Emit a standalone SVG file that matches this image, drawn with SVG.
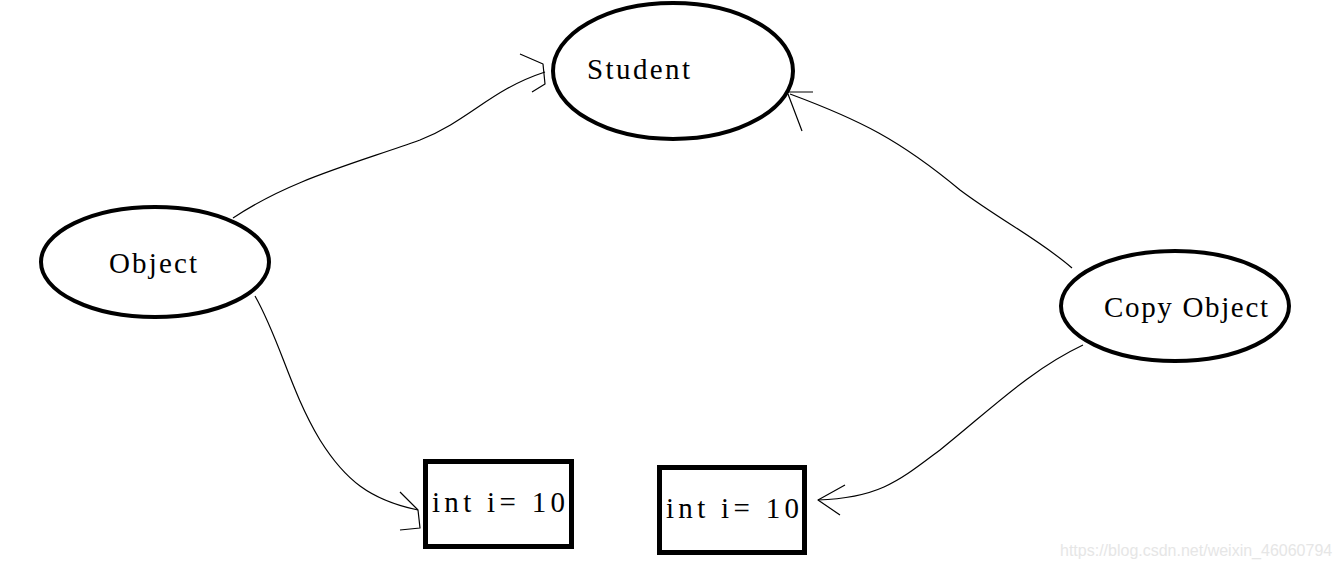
<svg xmlns="http://www.w3.org/2000/svg" width="1340" height="568" viewBox="0 0 1340 568">
<style>
.node{fill:#fff;stroke:#000;stroke-width:4}
.box{fill:#fff;stroke:#000;stroke-width:5}
.lbl{font-family:"Liberation Serif","Times New Roman",serif;font-size:29px;fill:#000}
.conn{fill:none;stroke:#000;stroke-width:1.2;stroke-linejoin:round}
.wm{font-family:"Liberation Sans",Arial,sans-serif;font-size:16px;fill:#e6e6e6}
</style>
<rect width="1340" height="568" fill="#fff"/>
<g id="connectors">
<path class="conn" d="M233,218 C290,180 350,165 420,140 C470,120 490,90 545,72"/>
<path class="conn" d="M520,54 L543,64 L545,84 L532,92"/>
<path class="conn" d="M1072,268 C1040,240 1000,220 960,190 C900,140 860,120 790,94"/>
<path class="conn" d="M788,92 L813,92 M788,94 L802,131"/>
<path class="conn" d="M255,296 C280,340 290,390 320,440 C345,480 370,500 418,510"/>
<path class="conn" d="M400,492 L418,510 L420,528 L400,530"/>
<path class="conn" d="M1083,345 C1030,370 990,410 940,450 C900,480 880,498 818,500"/>
<path class="conn" d="M845,485 L818,500 L840,515"/>
</g>
<g id="student">
<ellipse class="node" cx="673" cy="71" rx="120" ry="68"/>
<text class="lbl" x="587" y="79" textLength="103" lengthAdjust="spacing">Student</text>
</g>
<g id="object">
<ellipse class="node" cx="155" cy="262" rx="114" ry="55"/>
<text class="lbl" x="109" y="273" textLength="88" lengthAdjust="spacing">Object</text>
</g>
<g id="copy-object">
<ellipse class="node" cx="1175" cy="306" rx="114" ry="55"/>
<text class="lbl" x="1104" y="317" textLength="164" lengthAdjust="spacing">Copy Object</text>
</g>
<g id="box1">
<rect class="box" x="425.5" y="461.5" width="146" height="85"/>
<text class="lbl" x="432" y="512" textLength="133" lengthAdjust="spacing">int i= 10</text>
</g>
<g id="box2">
<rect class="box" x="659.5" y="467.5" width="145" height="85"/>
<text class="lbl" x="666" y="518" textLength="133" lengthAdjust="spacing">int i= 10</text>
</g>
<text class="wm" x="1060" y="556">https://blog.csdn.net/weixin_46060794</text>
</svg>
